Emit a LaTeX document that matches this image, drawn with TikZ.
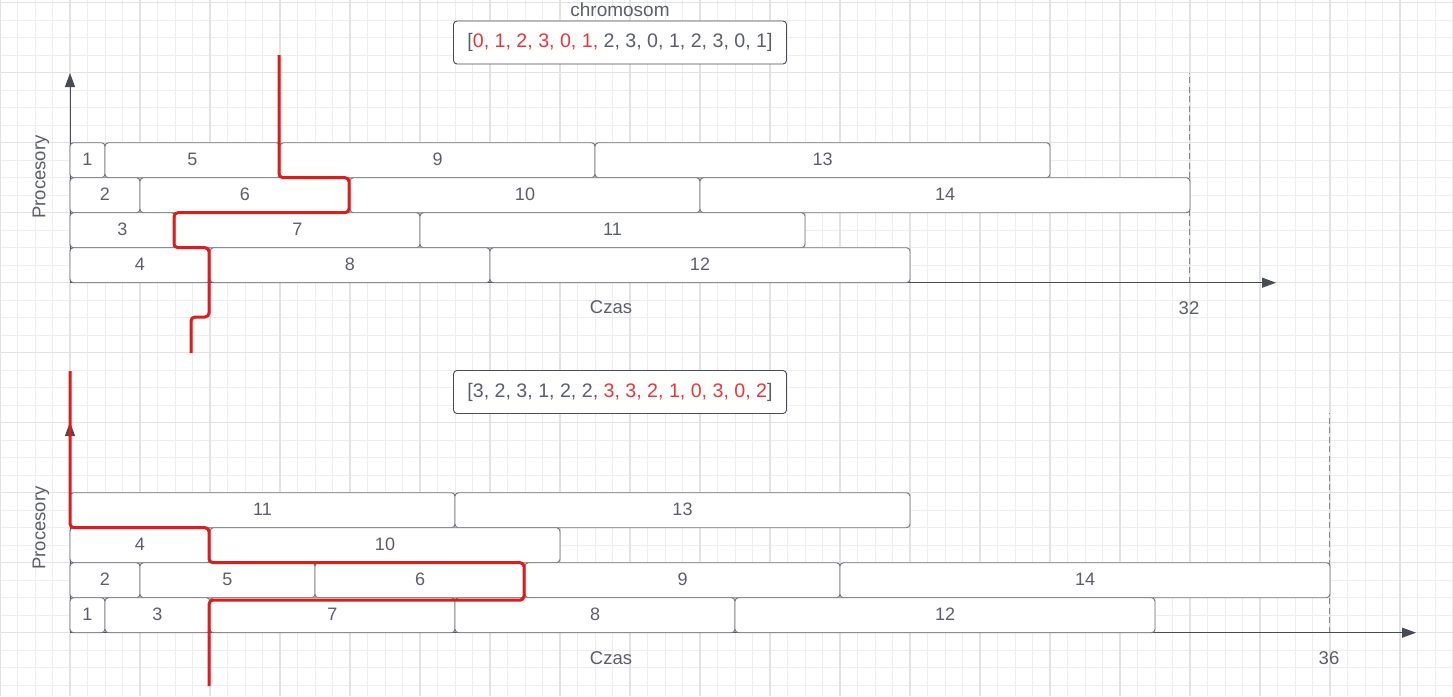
\documentclass[tikz,border=0pt]{standalone}
\usepackage{fontspec}
\setmainfont{Liberation Sans}
\usetikzlibrary{arrows.meta}
\definecolor{txtgray}{HTML}{5C5F66}
\definecolor{boxgray}{HTML}{70737A}
\definecolor{axisgray}{HTML}{474B53}
\definecolor{dashgray}{HTML}{85888E}
\definecolor{cutred}{HTML}{E01B1B}
\definecolor{redtxt}{HTML}{E8363A}
\definecolor{gridminor}{HTML}{EDEDED}
\definecolor{gridmajor}{HTML}{E2E2E2}
\tikzset{
  taskbox/.style={draw=boxgray, line width=0.9pt, fill=white, rounded corners=3.5pt,
    minimum height=35pt, inner sep=0pt, outer sep=0pt, text=txtgray,
    font=\fontsize{18}{20}\selectfont},
  chrombox/.style={draw=axisgray, line width=0.9pt, fill=white, rounded corners=3.5pt,
    minimum width=333pt, minimum height=43pt, inner sep=0pt, text=txtgray,
    font=\fontsize{19.6}{22}\selectfont},
  lbl/.style={text=txtgray, inner sep=0pt, font=\fontsize{18.5}{21}\selectfont},
  axisline/.style={draw=axisgray, line width=1pt, -{Triangle[length=14pt,width=10pt]}},
  limitline/.style={draw=dashgray, line width=1pt, dash pattern=on 6pt off 3.5pt},
  cutline/.style={draw=cutred, line width=3pt, rounded corners=4pt},
  gmin/.style={draw=gridminor, line width=0.9pt},
  gmaj/.style={draw=gridmajor, line width=1.4pt},
}
\newcommand\tsk[5]{%
  \pgfmathsetmacro\tx{70+35*(#2+#3)/2}%
  \pgfmathsetmacro\tw{35*(#3-#2)}%
  \node[taskbox, minimum width=\tw pt] (#1) at (\tx, #4+17.5) {\raisebox{1.5pt}{#5}};%
}
\begin{document}
\begin{tikzpicture}[x=1pt, y=-1pt]
\useasboundingbox (0,0) rectangle (1453,696);
\fill[white] (0,0) rectangle (1453,696);
% grid
\foreach \i in {0,...,83} {\draw[gmin] (\i*17.5,0) -- (\i*17.5,696);}
\foreach \j in {0,...,39} {\draw[gmin] (0,2.7+\j*17.5) -- (1453,2.7+\j*17.5);}
\foreach \i in {0,...,20} {\draw[gmaj] (\i*70,0) -- (\i*70,696);}
\foreach \j in {0,...,9} {\draw[gmaj] (0,2.7+\j*70) -- (1453,2.7+\j*70);}

% ===== top diagram =====
\node[lbl, font=\fontsize{19}{22}\selectfont] (chromlbl) at (620,10) {chromosom};
\node[chrombox] (chrom1) at (620,42.5) {[\textcolor{redtxt}{0, 1, 2, 3, 0, 1,} 2, 3, 0, 1, 2, 3, 0, 1]};

\coordinate (o1) at (70,282.7);
\coordinate (y1) at (70,73);
\coordinate (x1) at (1276,282.7);
\coordinate (d1b) at (1189,282.7);
\coordinate (d1t) at (1189,73);
\draw[limitline] (d1b) -- (d1t);
\draw[axisline] (o1) -- (y1);
\draw[axisline] (o1) -- (x1);

\tsk{a1}{0}{1}{142.7}{1}
\tsk{a5}{1}{6}{142.7}{5}
\tsk{a9}{6}{15}{142.7}{9}
\tsk{a13}{15}{28}{142.7}{13}
\tsk{a2}{0}{2}{177.7}{2}
\tsk{a6}{2}{8}{177.7}{6}
\tsk{a10}{8}{18}{177.7}{10}
\tsk{a14}{18}{32}{177.7}{14}
\tsk{a3}{0}{3}{212.7}{3}
\tsk{a7}{3}{10}{212.7}{7}
\tsk{a11}{10}{21}{212.7}{11}
\tsk{a4}{0}{4}{247.7}{4}
\tsk{a8}{4}{12}{247.7}{8}
\tsk{a12}{12}{24}{247.7}{12}

\node[lbl] (czas1) at (611,307) {Czas};
\node[lbl] (t32) at (1189,308) {32};
\node[lbl, rotate=90] (proc1) at (41,177) {Procesory};

\draw[cutline] (279,55) -- (279,177.7) -- (349,177.7) -- (349,212.7) -- (174,212.7)
  -- (174,247.7) -- (209,247.7) -- (209,317) -- (191,317) -- (191,353);

% ===== bottom diagram =====
\node[chrombox] (chrom2) at (620,392) {[3, 2, 3, 1, 2, 2, \textcolor{redtxt}{3, 3, 2, 1, 0, 3, 0, 2}]};

\coordinate (o2) at (70,632.7);
\coordinate (y2) at (70,422);
\coordinate (x2) at (1416,632.7);
\coordinate (d2b) at (1329,632.7);
\coordinate (d2t) at (1329,413);
\draw[limitline] (d2b) -- (d2t);
\draw[axisline] (o2) -- (y2);
\draw[axisline] (o2) -- (x2);

\tsk{b11}{0}{11}{492.7}{11}
\tsk{b13}{11}{24}{492.7}{13}
\tsk{b4}{0}{4}{527.7}{4}
\tsk{b10}{4}{14}{527.7}{10}
\tsk{b2}{0}{2}{562.7}{2}
\tsk{b5}{2}{7}{562.7}{5}
\tsk{b6}{7}{13}{562.7}{6}
\tsk{b9}{13}{22}{562.7}{9}
\tsk{b14}{22}{36}{562.7}{14}
\tsk{b1}{0}{1}{597.7}{1}
\tsk{b3}{1}{4}{597.7}{3}
\tsk{b7}{4}{11}{597.7}{7}
\tsk{b8}{11}{19}{597.7}{8}
\tsk{b12}{19}{31}{597.7}{12}

\node[lbl] (czas2) at (611,658) {Czas};
\node[lbl] (t36) at (1329,658) {36};
\node[lbl, rotate=90] (proc2) at (41,528) {Procesory};

\draw[cutline] (70,371) -- (70,527.7) -- (209,527.7) -- (209,562.7) -- (524,562.7)
  -- (524,600.2) -- (209,600.2) -- (209,686);
\end{tikzpicture}
\end{document}
